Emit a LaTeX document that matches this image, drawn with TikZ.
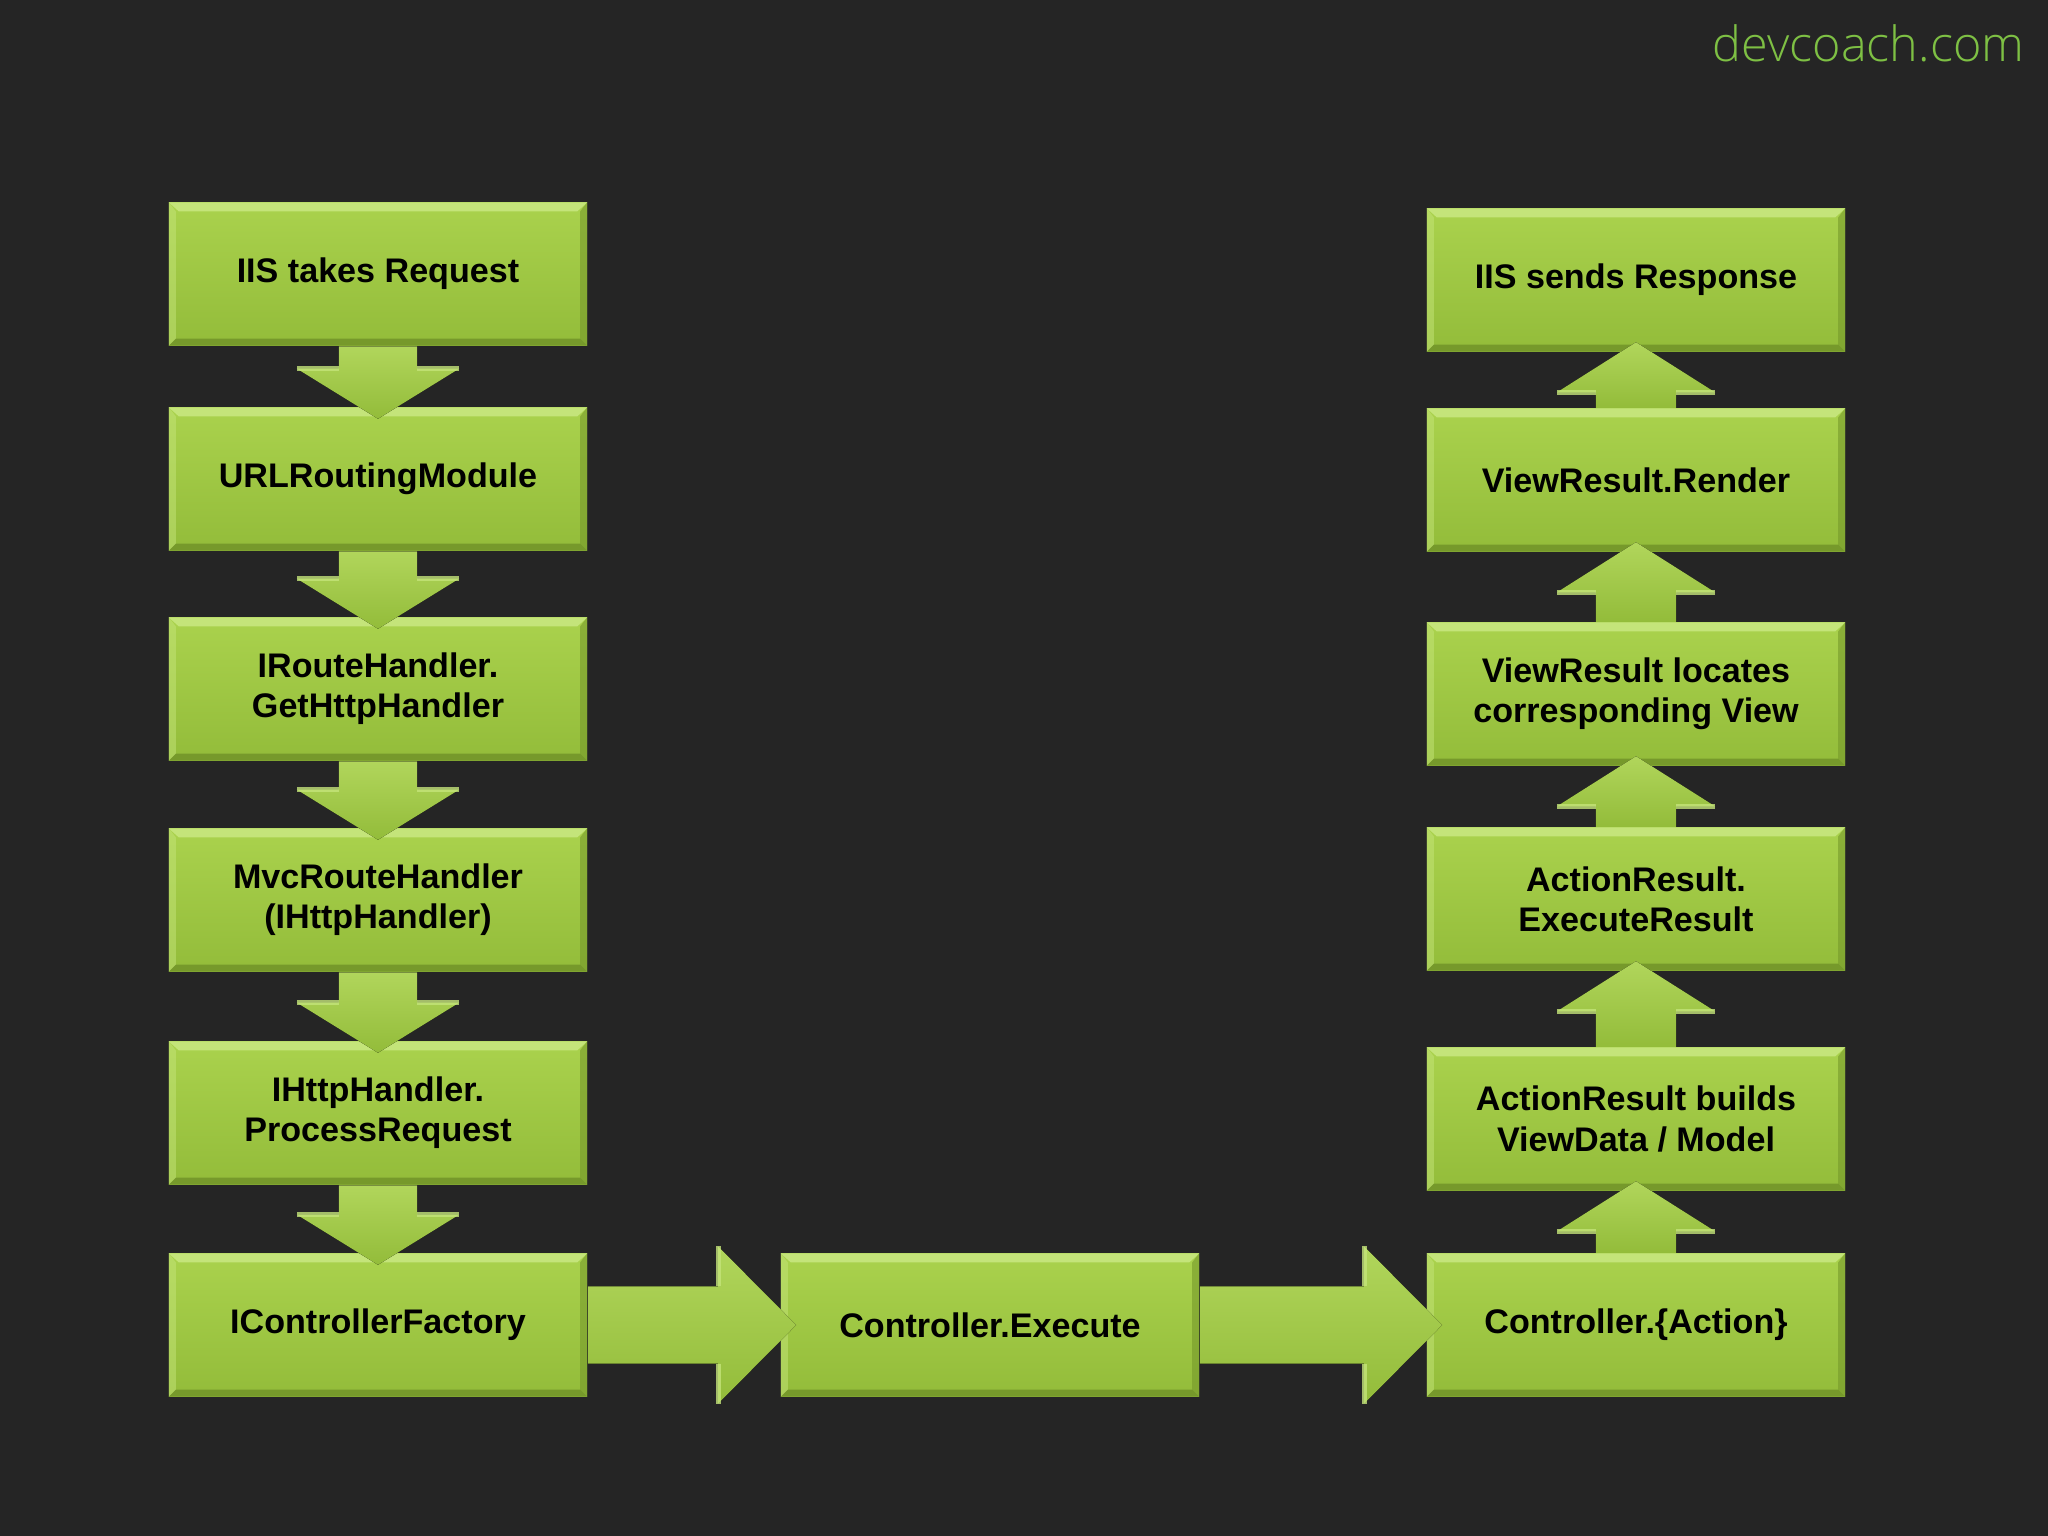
\documentclass[tikz,border=0pt]{standalone}
\usepackage{fontspec}
\setsansfont{Liberation Sans}
\newfontfamily\wmfont{Open Sans}[UprightFont=* Light]
\usepackage{tikz}
\usetikzlibrary{calc}
\definecolor{bg}{HTML}{252525}
\definecolor{gtop}{HTML}{AAD24D}
\definecolor{gbot}{HTML}{93BC3A}
\definecolor{glite}{HTML}{C4E47A}
\definecolor{gdark}{HTML}{76992B}
\definecolor{wm}{HTML}{7EC044}
\newcommand{\ppb}{path picture bounding box}
\newcommand{\bevels}{%
  \fill[glite] (\ppb.north west) -- (\ppb.north east) -- ([shift={(-1mm,-0.9mm)}]\ppb.north east) -- ([shift={(1mm,-0.9mm)}]\ppb.north west) -- cycle;
  \fill[gdark] (\ppb.south west) -- (\ppb.south east) -- ([shift={(-0.7mm,0.7mm)}]\ppb.south east) -- ([shift={(0.7mm,0.7mm)}]\ppb.south west) -- cycle;
  \fill[glite, opacity=0.5] (\ppb.north west) -- ([shift={(0.7mm,-0.9mm)}]\ppb.north west) -- ([shift={(0.7mm,0.7mm)}]\ppb.south west) -- (\ppb.south west) -- cycle;
  \fill[gdark, opacity=0.6] (\ppb.north east) -- ([shift={(-0.7mm,-0.9mm)}]\ppb.north east) -- ([shift={(-0.7mm,0.7mm)}]\ppb.south east) -- (\ppb.south east) -- cycle;}
\tikzset{
  stepbox/.style={rectangle, minimum width=41.8mm, minimum height=14.3mm, inner sep=0pt,
    top color=gtop, bottom color=gbot, align=center, text=black,
    font=\sffamily\bfseries\fontsize{9.7}{11.4}\selectfont, path picture={\bevels},
    execute at begin node={\vspace*{1mm}}},
  blockarr/.style={top color=gtop!92!white, bottom color=gbot},
  wingedge/.style={glite, line width=0.5mm, opacity=0.8},
  wmark/.style={font=\wmfont\fontsize{13.8}{16}\selectfont, text=wm, inner sep=0pt},
}
% down arrow from box #1 into box #2
\newcommand{\downarr}[2]{%
  \fill[blockarr] ($(#1.south)+(-3.9mm,0)$) -- ($(#1.south)+(3.9mm,0)$)
    -- ($(#2.north)+(3.9mm,3.8mm)$) -- ($(#2.north)+(8.1mm,3.8mm)$)
    -- ($(#2.north)+(0,-1.2mm)$) -- ($(#2.north)+(-8.1mm,3.8mm)$)
    -- ($(#2.north)+(-3.9mm,3.8mm)$) -- cycle;
  \draw[wingedge] ($(#2.north)+(-8.1mm,3.8mm)$) -- ($(#2.north)+(-3.9mm,3.8mm)$)
    ($(#2.north)+(3.9mm,3.8mm)$) -- ($(#2.north)+(8.1mm,3.8mm)$);}
% up arrow from box #1 into box #2
\newcommand{\uparr}[2]{%
  \fill[blockarr] ($(#1.north)+(-4mm,0)$) -- ($(#1.north)+(4mm,0)$)
    -- ($(#2.south)+(4mm,-4mm)$) -- ($(#2.south)+(7.9mm,-4mm)$)
    -- ($(#2.south)+(0,1mm)$) -- ($(#2.south)+(-7.9mm,-4mm)$)
    -- ($(#2.south)+(-4mm,-4mm)$) -- cycle;
  \draw[wingedge] ($(#2.south)+(-7.9mm,-4mm)$) -- ($(#2.south)+(-4mm,-4mm)$)
    ($(#2.south)+(4mm,-4mm)$) -- ($(#2.south)+(7.9mm,-4mm)$);}
% right arrow from box #1 into box #2
\newcommand{\rightarr}[2]{%
  \fill[blockarr] ($(#1.east)+(0,3.85mm)$) -- ($(#2.west)+(-6.2mm,3.85mm)$)
    -- ($(#2.west)+(-6.2mm,7.85mm)$) -- ($(#2.west)+(1.6mm,0)$)
    -- ($(#2.west)+(-6.2mm,-7.85mm)$) -- ($(#2.west)+(-6.2mm,-3.85mm)$)
    -- ($(#1.east)+(0,-3.85mm)$) -- cycle;
  \draw[wingedge] ($(#2.west)+(-6.2mm,7.85mm)$) -- ($(#2.west)+(-6.2mm,3.85mm)$)
    ($(#2.west)+(-6.2mm,-3.85mm)$) -- ($(#2.west)+(-6.2mm,-7.85mm)$);}

\begin{document}
\begin{tikzpicture}[x=0.01cm,y=-0.01cm]
  \fill[bg] (0,0) rectangle (2048,1536);
  \useasboundingbox (0,0) rectangle (2048,1536);
  % left column
  \node[stepbox] (req)     at (378,274)  {IIS takes Request};
  \node[stepbox] (route)   at (378,479)  {URLRoutingModule};
  \node[stepbox] (handler) at (378,689)  {IRouteHandler.\\GetHttpHandler};
  \node[stepbox] (mvc)     at (378,900)  {MvcRouteHandler\\(IHttpHandler)};
  \node[stepbox] (proc)    at (378,1113) {IHttpHandler.\\ProcessRequest};
  \node[stepbox] (factory) at (378,1325) {IControllerFactory};
  % middle
  \node[stepbox] (exec)    at (990,1325) {Controller.Execute};
  % right column
  \node[stepbox] (action)  at (1636,1325) {Controller.\{Action\}};
  \node[stepbox] (builds)  at (1636,1119) {ActionResult builds\\ViewData / Model};
  \node[stepbox] (execres) at (1636,899)  {ActionResult.\\ExecuteResult};
  \node[stepbox] (locate)  at (1636,694)  {ViewResult locates\\corresponding View};
  \node[stepbox] (render)  at (1636,480)  {ViewResult.Render};
  \node[stepbox] (resp)    at (1636,280)  {IIS sends Response};
  \node[wmark, anchor=base east] (site) at (2025,61) {devcoach.com};
  % arrows
  \foreach \a/\b in {req/route, route/handler, handler/mvc, mvc/proc, proc/factory}
    {\downarr{\a}{\b}}
  \rightarr{factory}{exec}
  \rightarr{exec}{action}
  \foreach \a/\b in {action/builds, builds/execres, execres/locate, locate/render, render/resp}
    {\uparr{\a}{\b}}
\end{tikzpicture}
\end{document}
